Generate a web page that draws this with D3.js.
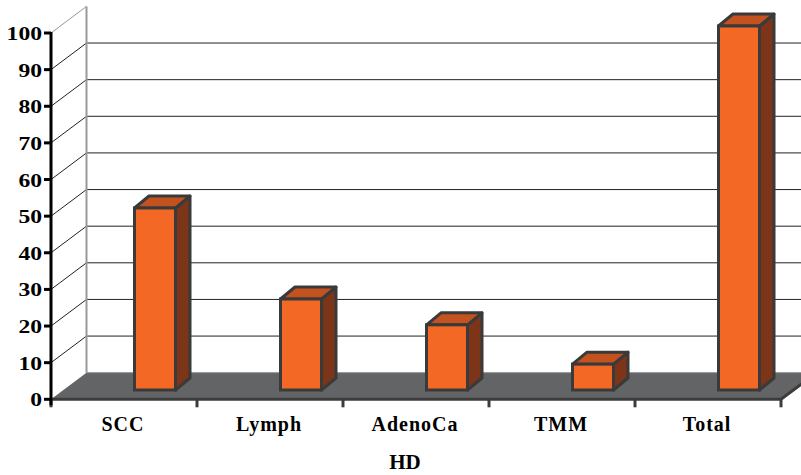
<!DOCTYPE html>
<html>
<head>
<meta charset="utf-8">
<script src="https://cdn.jsdelivr.net/npm/d3@7"></script>
<style>
  html, body { margin: 0; padding: 0; background: #fff; }
  svg { display: block; }
  text { font-family: "Liberation Serif", "Times New Roman", serif; font-weight: bold; fill: #000; }
</style>
</head>
<body>
<svg id="chart" width="801" height="475"></svg>
<script>
// Share of HD cases by tumour type (%)
const categories = ["SCC", "Lymph", "AdenoCa", "TMM", "Total"];
const values = [50, 25, 17.9, 7.1, 100];
const yTicks = [0, 10, 20, 30, 40, 50, 60, 70, 80, 90, 100];
const xTitle = "HD";

const W = 801, H = 475;
const svg = d3.select("#chart");

// Front plane (axis) and back wall geometry of the 3-D frame
const x0 = 51, x1 = 781;            // floor front edge
const depthX = 35.5, depthY = -26.6; // front -> back wall offset
const yFront = d3.scaleLinear().domain([0, 100]).range([399.3, 33]);
const yBack = v => yFront(v) + depthY;
const yBar = d3.scaleLinear().domain([0, 100]).range([390, 26]);

const x = d3.scaleBand().domain(categories).range([x0, x1]);

const ink = "#000";

// back wall gridlines
const grid = svg.append("g");
grid.selectAll("line.back")
  .data(yTicks.filter(v => v > 0 && v < 100))
  .join("line")
  .attr("x1", x0 + depthX).attr("x2", W + 20)
  .attr("y1", d => yBack(d)).attr("y2", d => yBack(d))
  .attr("stroke", "#222").attr("stroke-width", 1);

// side wall diagonals
grid.selectAll("line.side")
  .data(yTicks.filter(v => v > 0))
  .join("line")
  .attr("x1", x0).attr("x2", x0 + depthX)
  .attr("y1", d => yFront(d)).attr("y2", d => yBack(d))
  .attr("stroke", d => d === 100 ? "#999" : "#222").attr("stroke-width", 1);

// back wall left edge
grid.append("line")
  .attr("x1", x0 + depthX).attr("x2", x0 + depthX)
  .attr("y1", yBack(100)).attr("y2", yBack(0))
  .attr("stroke", "#999").attr("stroke-width", 2);

// floor
svg.append("path")
  .attr("d", d3.line()([
    [x0, yFront(0)], [x1, yFront(0)],
    [x1 + depthX, yBack(0)], [x0 + depthX, yBack(0)]
  ]) + "Z")
  .attr("fill", "#636466");
svg.append("line")
  .attr("x1", x0 + depthX).attr("x2", W + 20)
  .attr("y1", yBack(0)).attr("y2", yBack(0))
  .attr("stroke", "#8a8a8a").attr("stroke-width", 1);
// floor front and right edges
svg.append("path")
  .attr("d", d3.line()([[x0, yFront(0)], [x1, yFront(0)], [x1 + depthX, yBack(0)]]))
  .attr("fill", "none").attr("stroke", "#3c3c3c").attr("stroke-width", 3);

// category ticks below the floor edge
const bounds = categories.map(c => x(c)).concat([x1]);
svg.selectAll("line.xtick")
  .data(bounds)
  .join("line")
  .attr("x1", d => d).attr("x2", d => d)
  .attr("y1", yFront(0)).attr("y2", yFront(0) + 8)
  .attr("stroke", "#3c3c3c").attr("stroke-width", 3);

// value axis
svg.append("line")
  .attr("x1", x0).attr("x2", x0)
  .attr("y1", yFront(100) - 1).attr("y2", yFront(0) + 6)
  .attr("stroke", ink).attr("stroke-width", 3);
svg.selectAll("line.ytick")
  .data(yTicks)
  .join("line")
  .attr("x1", x0 - 7).attr("x2", x0)
  .attr("y1", d => yFront(d)).attr("y2", d => yFront(d))
  .attr("stroke", ink).attr("stroke-width", 3);
svg.selectAll("text.ylab")
  .data(yTicks)
  .join("text")
  .attr("x", 42).attr("y", d => yFront(d) + 7)
  .attr("text-anchor", "end")
  .attr("font-size", 19)
  .attr("textLength", d => String(d).length * 11.8)
  .attr("lengthAdjust", "spacingAndGlyphs")
  .text(d => d);

// 3-D columns
const barW = 41, shift = 31, bdx = 14.5, bdy = -12;
const cols = svg.append("g").selectAll("g")
  .data(categories.map((c, i) => ({ c, v: values[i] })))
  .join("g");
const stroke = "#3a3a3a";
cols.each(function (d) {
  const g = d3.select(this);
  const l = x(d.c) + x.bandwidth() / 2 + shift - barW / 2;
  const r = l + barW;
  const t = yBar(d.v), b = yBar(0);
  const poly = pts => d3.line()(pts) + "Z";
  g.append("path")
    .attr("d", poly([[r, t], [r + bdx, t + bdy], [r + bdx, b + bdy], [r, b]]))
    .attr("fill", "#7d3519").attr("stroke", stroke).attr("stroke-width", 3)
    .attr("stroke-linejoin", "round");
  g.append("path")
    .attr("d", poly([[l, t], [l + bdx, t + bdy], [r + bdx, t + bdy], [r, t]]))
    .attr("fill", "#c4521f").attr("stroke", stroke).attr("stroke-width", 3)
    .attr("stroke-linejoin", "round");
  g.append("rect")
    .attr("x", l).attr("y", t).attr("width", barW).attr("height", b - t)
    .attr("fill", "#f26824").attr("stroke", stroke).attr("stroke-width", 3);
});

// category labels
svg.selectAll("text.xlab")
  .data(categories)
  .join("text")
  .attr("x", d => x(d) + x.bandwidth() / 2 - 1)
  .attr("y", 431)
  .attr("text-anchor", "middle")
  .attr("font-size", 20)
  .attr("letter-spacing", 1)
  .text(d => d);

// axis title
svg.append("text")
  .attr("x", 405).attr("y", 469)
  .attr("text-anchor", "middle")
  .attr("font-size", 21)
  .text(xTitle);
</script>
</body>
</html>
